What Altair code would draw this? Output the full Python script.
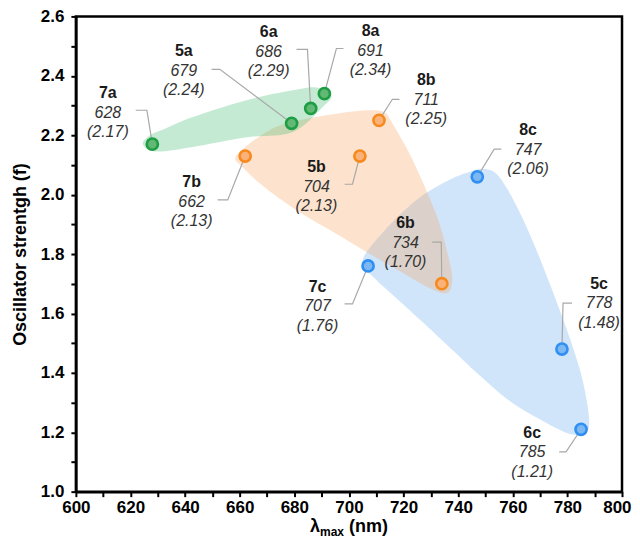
import altair as alt
import pandas as pd

# ---- data ----
names = ["7a", "5a", "6a", "8a", "7b", "5b", "8b", "6b", "7c", "8c", "5c", "6c"]
series = ["a", "a", "a", "a", "b", "b", "b", "b", "c", "c", "c", "c"]
lam = [628, 679, 686, 691, 662, 704, 711, 734, 707, 747, 778, 785]
osc = [2.17, 2.24, 2.29, 2.34, 2.13, 2.13, 2.25, 1.70, 1.76, 2.06, 1.48, 1.21]

# annotation anchors (data units): centre of the bold name line
label_x = [611.7, 639.5, 670.6, 707.9, 642.4, 688.1, 728.3, 720.7, 688.5, 765.6, 791.6, 767.1]
label_y = [2.341, 2.482, 2.546, 2.550, 2.042, 2.092, 2.385, 1.904, 1.689, 2.217, 1.699, 1.198]

# leader lines: start x, elbow x, shared y of the short horizontal piece
lead_x0 = [621.9, 649.7, 680.8, 698.0, 651.9, 698.4, 718.5, 730.5, 698.4, 755.8, 781.7, 777.0]
lead_x1 = [626.0, 652.7, 684.8, 695.4, 655.6, 701.3, 715.9, 733.8, 701.3, 753.2, 778.4, 779.5]
lead_y = [2.284, 2.422, 2.489, 2.492, 1.982, 2.035, 2.321, 1.840, 1.632, 2.153, 1.635, 1.134]

# shaded envelopes (outline points, data units)
hull_a_x = [624.5, 627.1, 632.2, 642.8, 662.5, 679.3, 688.1, 693.6, 690.3, 679.3, 662.5, 642.8,
            632.5, 627.1]
hull_a_y = [2.173, 2.200, 2.220, 2.261, 2.318, 2.351, 2.361, 2.334, 2.294, 2.210, 2.193, 2.160,
            2.146, 2.149]

hull_b_x = [658.9, 670.9, 681.9, 696.5, 707.5, 713.0, 715.9, 722.1, 728.3, 733.1, 736.7, 737.8,
            736.0, 729.4, 718.5, 706.4, 694.3, 681.9, 669.1, 661.1]
hull_b_y = [2.133, 2.217, 2.250, 2.274, 2.284, 2.277, 2.240, 2.139, 2.015, 1.904, 1.780, 1.713,
            1.669, 1.686, 1.743, 1.807, 1.874, 1.941, 2.025, 2.092]

hull_c_x = [704.9, 712.2, 724.7, 736.7, 744.1, 748.4, 753.2, 757.6, 763.4, 769.7, 778.1, 784.3,
            787.2, 787.9, 785.4, 780.6, 772.2, 759.8, 747.7, 730.5, 718.5, 709.3]
hull_c_y = [1.776, 1.871, 1.982, 2.049, 2.076, 2.086, 2.076, 2.025, 1.924, 1.790, 1.588, 1.420,
            1.299, 1.218, 1.195, 1.195, 1.232, 1.299, 1.393, 1.541, 1.642, 1.719]

x_ticks = [600, 610, 620, 630, 640, 650, 660, 670, 680, 690, 700,
           710, 720, 730, 740, 750, 760, 770, 780, 790, 800]
y_ticks = [1.0, 1.1, 1.2, 1.3, 1.4, 1.5, 1.6, 1.7, 1.8, 1.9, 2.0,
           2.1, 2.2, 2.3, 2.4, 2.5, 2.6]

series_dom = ["a", "b", "c"]
point_fill = ["#62b874", "#f9b27a", "#7db8f3"]
point_stroke = ["#1e9e44", "#f68a1e", "#2f8ff2"]
hull_fill = {"a": "#3dbb6c", "b": "#f7a35c", "c": "#62a8f0"}

FONT = "Liberation Sans"

# ---- tables ----
pts = pd.DataFrame({
    "name": names, "series": series, "x": lam, "y": osc,
    "lx": label_x, "ly": label_y,
})
pts["num"] = [str(v) for v in lam]
pts["par"] = ["(%.2f)" % v for v in osc]

rows = []
for i, n in enumerate(names):
    rows.append({"name": n, "k": 0, "x": lead_x0[i], "y": lead_y[i]})
    rows.append({"name": n, "k": 1, "x": lead_x1[i], "y": lead_y[i]})
    rows.append({"name": n, "k": 2, "x": lam[i], "y": osc[i]})
leaders = pd.DataFrame(rows)


def hull_df(xs, ys):
    return pd.DataFrame({"x": xs, "y": ys, "k": list(range(len(xs)))})


xscale = alt.Scale(domain=[600, 800], nice=False, zero=False)
yscale = alt.Scale(domain=[1.0, 2.6], nice=False, zero=False)

xaxis = alt.Axis(
    values=x_ticks, labelExpr="datum.value % 20 == 0 ? datum.label : ''",
    title=None, grid=False, domainColor="black", domainWidth=2.5,
    tickColor="black", tickWidth=2, tickSize=5, labelFont=FONT,
    labelFontWeight="bold", labelFontSize=17, labelColor="black",
    labelPadding=3, format="d", labelFlush=False, labelOverlap=False,
    labelAlign={"condition": {"test": "datum.value == 800", "value": "right"}, "value": "center"},
    labelOffset={"condition": {"test": "datum.value == 800", "value": 9}, "value": 0},
)
yaxis = alt.Axis(
    values=y_ticks,
    labelExpr="round(datum.value * 10) % 2 == 0 ? format(datum.value, '.1f') : ''",
    title="Oscillator strentgh (f)", titleFont=FONT, titleFontSize=18,
    titleFontWeight="bold", titleColor="black", titleX=-55, titleY=238,
    titleAngle=270, titleAlign="center", titleBaseline="middle",
    grid=False, domainColor="black", domainWidth=2.5, tickColor="black",
    tickWidth=2, tickSize=5, labelFont=FONT, labelFontWeight="bold",
    labelFontSize=17, labelColor="black", labelPadding=7,
    labelFlush=False, labelOverlap=False,
)

X = alt.X("x:Q", scale=xscale, axis=xaxis)
Y = alt.Y("y:Q", scale=yscale, axis=yaxis)


def hull_layer(key, xs, ys):
    return alt.Chart(hull_df(xs, ys)).mark_line(
        filled=True, interpolate="cardinal-closed", fill=hull_fill[key],
        fillOpacity=0.3, strokeOpacity=0, strokeWidth=0,
    ).encode(x=X, y=Y, order=alt.Order("k:Q"))


hulls = [
    hull_layer("c", hull_c_x, hull_c_y),
    hull_layer("b", hull_b_x, hull_b_y),
    hull_layer("a", hull_a_x, hull_a_y),
]

lead = alt.Chart(leaders).mark_line(color="#a8a8a8", strokeWidth=1.2).encode(
    x=X, y=Y, detail="name:N", order=alt.Order("k:Q"),
)

points = alt.Chart(pts).mark_circle(size=125, opacity=1, strokeWidth=2.6).encode(
    x=X, y=Y,
    fill=alt.Fill("series:N", scale=alt.Scale(domain=series_dom, range=point_fill), legend=None),
    stroke=alt.Stroke("series:N", scale=alt.Scale(domain=series_dom, range=point_stroke), legend=None),
)

LX = alt.X("lx:Q", scale=xscale, axis=xaxis)
LY = alt.Y("ly:Q", scale=yscale, axis=yaxis)
t_name = alt.Chart(pts).mark_text(
    font=FONT, fontSize=16, fontWeight="bold", color="#1a1a1a", baseline="middle"
).encode(x=LX, y=LY, text="name:N")
t_num = alt.Chart(pts).mark_text(
    font=FONT, fontSize=16, fontStyle="italic", color="#333333", baseline="middle", dy=19.5
).encode(x=LX, y=LY, text="num:N")
t_par = alt.Chart(pts).mark_text(
    font=FONT, fontSize=16, fontStyle="italic", color="#333333", baseline="middle", dy=39
).encode(x=LX, y=LY, text="par:N")

# x-axis title with subscript
t1 = alt.Chart(pd.DataFrame({"t": ["λ"]})).mark_text(
    font=FONT, fontSize=18, fontWeight="bold", color="black", align="left", baseline="alphabetic"
).encode(x=alt.value(234.5), y=alt.value(516), text="t:N")
t2 = alt.Chart(pd.DataFrame({"t": ["max"]})).mark_text(
    font=FONT, fontSize=12, fontWeight="bold", color="black", align="left", baseline="alphabetic"
).encode(x=alt.value(244.5), y=alt.value(520), text="t:N")
t3 = alt.Chart(pd.DataFrame({"t": ["(nm)"]})).mark_text(
    font=FONT, fontSize=18, fontWeight="bold", color="black", align="left", baseline="alphabetic"
).encode(x=alt.value(273.5), y=alt.value(516), text="t:N")

chart = alt.layer(*hulls, lead, points, t_name, t_num, t_par, t1, t2, t3).properties(
    width=547, height=476,
    autosize=alt.AutoSizeParams(type="none"),
    padding={"left": 68, "top": 8, "right": 10, "bottom": 46},
).configure_view(stroke="black", strokeWidth=2.5)

chart.save("out.html", embed_options={"renderer": "svg", "actions": False})
